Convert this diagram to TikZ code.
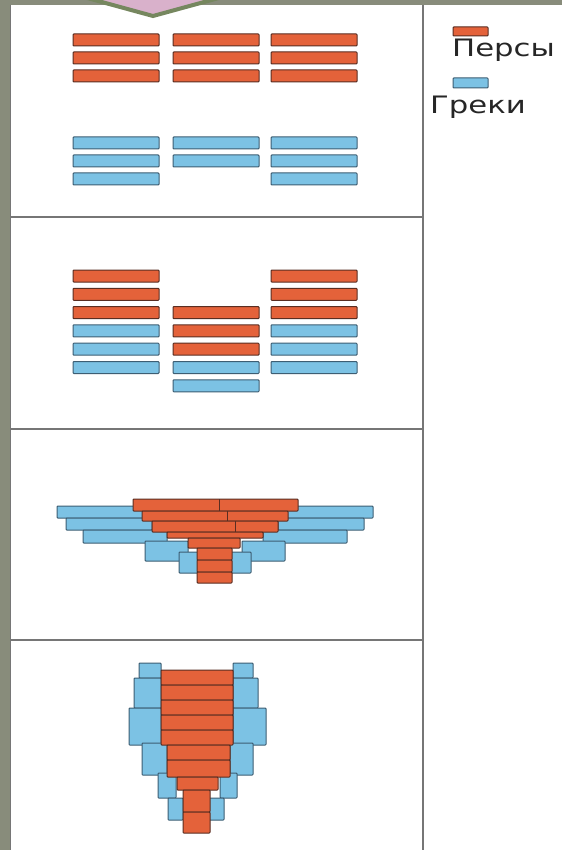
\documentclass[tikz,border=0pt]{standalone}
\usepackage{fontspec}
\usepackage{xcolor}
\newfontfamily\legendfont[FakeStretch=1.28]{DejaVu Sans}

\definecolor{bgolive}{HTML}{888C7B}
\definecolor{tabpink}{HTML}{D9B1CB}
\definecolor{tabgreen}{HTML}{76875F}
\definecolor{persred}{HTML}{E4623A}
\definecolor{persedge}{HTML}{5A2E22}
\definecolor{grekblue}{HTML}{7CC2E4}
\definecolor{grekedge}{HTML}{3D5E73}
\definecolor{framegray}{HTML}{767676}

\begin{document}
\begin{tikzpicture}[x=1pt, y=-1pt,
  pers/.style={draw=persedge, fill=persred, line width=1pt, rounded corners=0.8pt},
  grek/.style={draw=grekedge, fill=grekblue, line width=1pt, rounded corners=0.8pt},
  divider/.style={draw=persedge, line width=1pt},
  frame/.style={draw=framegray, line width=1.6pt},
  legtext/.style={anchor=base west, inner sep=0pt, text=black!85,
                  font=\legendfont\fontsize{24}{28}\selectfont}
]
\useasboundingbox (0,0) rectangle (562,850);
%% background and sheet
\fill[bgolive] (0,0) rectangle (562,850);
\fill[white] (10,5) rectangle (562,850);
%% tab at the top
\filldraw[draw=tabgreen, fill=tabpink, line width=4pt] (58,-10) -- (153,16) -- (248,-10);
%% frame lines
\draw[frame] (423,5) -- (423,850);
\draw[framegray, line width=0.6pt] (10.5,5) -- (10.5,850);
\foreach \yy in {217,429,640}
  \draw[frame] (10,\yy) -- (423,\yy);

%% panel 1: two camps
\foreach \xl in {73,173,271}
  \foreach \yt in {34,52,70}
    \draw[pers] (\xl,\yt) rectangle ++(86,12);
\foreach \xl/\yt in {73/137, 73/155, 73/173, 173/137, 173/155, 271/137, 271/155, 271/173}
  \draw[grek] (\xl,\yt) rectangle ++(86,12);

%% panel 2: lines before the battle
\foreach \r in {1,2,3} {
  \draw[pers] (73,{251.7+18.3*\r}) rectangle ++(86,12);
  \draw[pers] (271,{251.7+18.3*\r}) rectangle ++(86,12);
}
\foreach \r in {4,5,6} {
  \draw[grek] (73,{251.7+18.3*\r}) rectangle ++(86,12);
  \draw[grek] (271,{251.7+18.3*\r}) rectangle ++(86,12);
}
\foreach \r in {3,4,5}
  \draw[pers] (173,{251.7+18.3*\r}) rectangle ++(86,12);
\foreach \r in {6,7}
  \draw[grek] (173,{251.7+18.3*\r}) rectangle ++(86,12);

%% panel 3: centre pushed in
\foreach \xl/\yt/\xr/\yb in {57/506/143/518, 66/518/152/530, 83/530/167/543,
    145/541/188/561, 179/552/199/573, 287/506/373/518, 278/518/364/530,
    263/530/347/543, 242/541/285/561, 231/552/251/573}
  \draw[grek] (\xl,\yt) rectangle (\xr,\yb);
\foreach \xl/\yt/\xr/\yb in {133/499/298/511, 142/511/288/521, 152/521/278/532,
    167/532/263/538, 188/538/240/548, 197/548/232/560, 197/560/232/572, 197/572/232/583}
  \draw[pers] (\xl,\yt) rectangle (\xr,\yb);
\draw[divider] (219,499) -- (219,511);
\draw[divider] (227,511) -- (227,521);
\draw[divider] (235,521) -- (235,532);

%% panel 4: encircled
\foreach \xl/\yt/\xr/\yb in {139/663/161/678, 134/678/161/708, 129/708/161/745,
    142/743/167/775, 158/773/176/798, 168/798/183/820,
    233/663/253/678, 233/678/258/708, 233/708/266/745,
    230/743/253/775, 220/773/237/798, 209/798/224/820}
  \draw[grek] (\xl,\yt) rectangle (\xr,\yb);
\foreach \xl/\yt/\xr/\yb in {161/670/233/685, 161/685/233/700, 161/700/233/715,
    161/715/233/730, 161/730/233/745, 167/745/230/760, 167/760/230/777,
    177/777/218/790, 183/790/210/812, 183/812/210/833}
  \draw[pers] (\xl,\yt) rectangle (\xr,\yb);

%% legend
\draw[pers] (453,27) rectangle (488,36);
\node[legtext] (persians) at (452,57) {Персы};
\draw[grek] (453,78) rectangle (488,88);
\node[legtext] (greeks) at (430,114) {Греки};
\end{tikzpicture}
\end{document}
